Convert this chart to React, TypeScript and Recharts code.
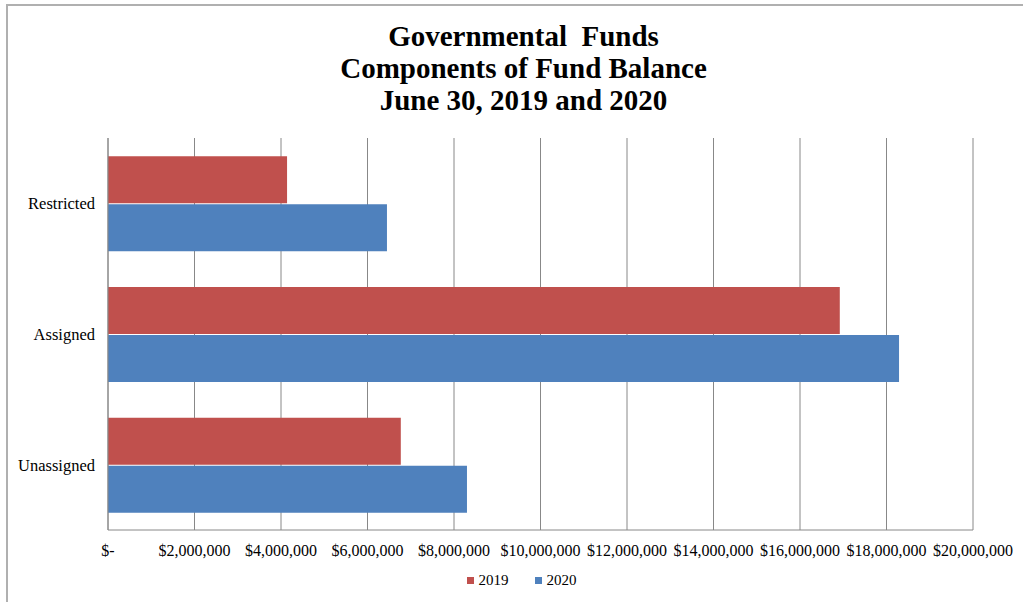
import {
  BarChart,
  Bar,
  XAxis,
  YAxis,
  CartesianGrid,
  Legend,
} from "recharts";

const categories = ["Restricted", "Assigned", "Unassigned"];
const values2019 = [4140000, 16920000, 6770000];
const values2020 = [6450000, 18290000, 8300000];
const xTicks = [
  0, 2000000, 4000000, 6000000, 8000000, 10000000, 12000000, 14000000,
  16000000, 18000000, 20000000,
];
const seriesNames = ["2019", "2020"];
const COLORS = ["#C0504D", "#4F81BD"];

const data = categories.map((name, i) => ({
  name,
  "2019": values2019[i],
  "2020": values2020[i],
}));

const FONT = '"Liberation Serif", "Times New Roman", serif';

const formatMoney = (v: number) =>
  v === 0 ? "$-" : "$" + v.toLocaleString("en-US");

const renderLegend = () => (
  <div
    style={{
      display: "flex",
      justifyContent: "center",
      fontFamily: FONT,
      fontSize: 15,
      color: "#000",
    }}
  >
    {seriesNames.map((s, i) => (
      <div
        key={s}
        style={{ display: "flex", alignItems: "center", margin: "0 13px" }}
      >
        <span
          style={{
            width: 7,
            height: 7,
            background: COLORS[i],
            display: "inline-block",
            marginRight: 5,
          }}
        />
        <span>{s}</span>
      </div>
    ))}
  </div>
);

export default function App() {
  return (
    <div
      style={{
        position: "absolute",
        left: 0,
        top: 0,
        width: 1023,
        height: 602,
        overflow: "hidden",
        background: "#fff",
      }}
    >
      <div
        style={{
          position: "absolute",
          left: 6,
          top: 4,
          width: 1100,
          height: 700,
          border: "2px solid #b0b0b0",
          boxSizing: "border-box",
        }}
      />
      <div
        style={{
          position: "absolute",
          left: 0,
          top: 20,
          width: 1047,
          textAlign: "center",
          fontFamily: FONT,
          fontWeight: "bold",
          fontSize: 29,
          lineHeight: "32px",
          color: "#000",
          whiteSpace: "pre",
        }}
      >
        {"Governmental  Funds\nComponents of Fund Balance\nJune 30, 2019 and 2020"}
      </div>
      <div style={{ position: "absolute", left: 0, top: 0 }}>
        <BarChart
          width={1023}
          height={602}
          data={data}
          layout="vertical"
          margin={{ top: 138, right: 50, bottom: 32, left: 0 }}
          barCategoryGap="14%"
          barGap={1}
        >
          <CartesianGrid
            horizontal={false}
            vertical={true}
            stroke="#888888"
            strokeWidth={1}
          />
          <XAxis
            type="number"
            domain={[0, 20000000]}
            ticks={xTicks}
            tickFormatter={formatMoney}
            tickLine={false}
            axisLine={{ stroke: "#888888" }}
            tickMargin={9}
            height={40}
            interval={0}
            tick={{ fill: "#000", fontFamily: FONT, fontSize: 16 }}
          />
          <YAxis
            type="category"
            dataKey="name"
            width={108}
            tickLine={false}
            axisLine={{ stroke: "#888888" }}
            tickMargin={7}
            tick={{ fill: "#000", fontFamily: FONT, fontSize: 16.5 }}
          />
          <Legend
            layout="horizontal"
            verticalAlign="middle"
            align="center"
            content={renderLegend}
            wrapperStyle={{ top: 572, left: 0, width: 1043 }}
          />
          {seriesNames.map((s, i) => (
            <Bar
              key={s}
              dataKey={s}
              fill={COLORS[i]}
              isAnimationActive={false}
            />
          ))}
        </BarChart>
      </div>
    </div>
  );
}
